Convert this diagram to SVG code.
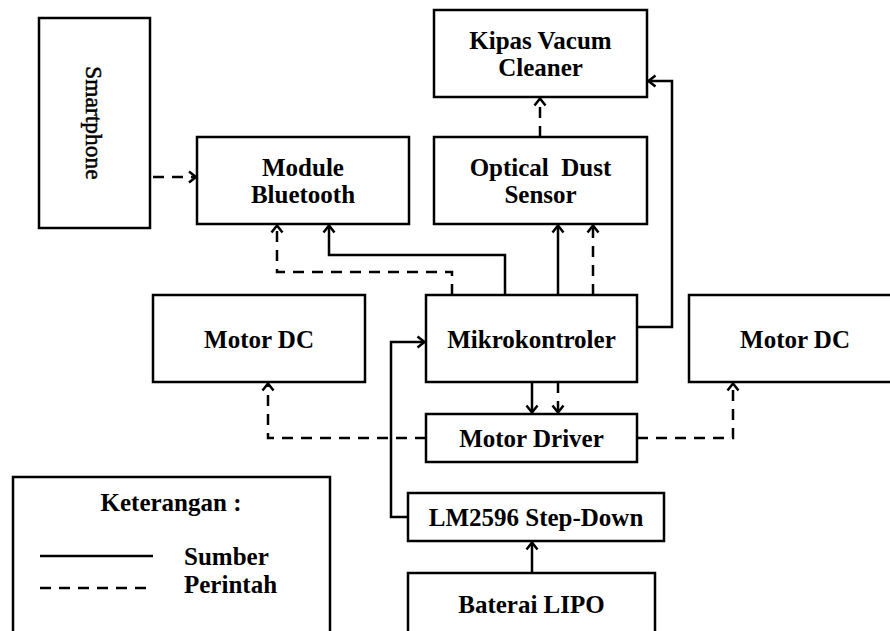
<svg xmlns="http://www.w3.org/2000/svg" width="890" height="631" viewBox="0 0 890 631">
<defs>
<style>
.box{fill:#fff;stroke:#000;stroke-width:2.5}
.t{font-family:"Liberation Serif","Times New Roman",serif;font-size:25px;font-weight:bold;fill:#000;text-anchor:middle}
.tl{font-family:"Liberation Serif","Times New Roman",serif;font-size:25px;font-weight:bold;fill:#000}
.s{fill:none;stroke:#000;stroke-width:2.5}
.d{fill:none;stroke:#000;stroke-width:2.5;stroke-dasharray:11 8}
.ah{fill:none;stroke:#000;stroke-width:2.5;stroke-dasharray:none}
</style>
<marker id="arr" markerUnits="userSpaceOnUse" viewBox="-9 -7 11 14" markerWidth="11" markerHeight="14" refX="0" refY="0" orient="auto">
<path class="ah" d="M-7,-5.5 L0,0 L-7,5.5"/>
</marker>
</defs>
<rect width="890" height="631" fill="#fff"/>

<g id="smartphone">
<rect class="box" x="39" y="18" width="111" height="210"/>
<text x="86" y="123" transform="rotate(90 86 123)" style="font-family:'Liberation Serif','Times New Roman',serif;font-size:23.5px;fill:#000;stroke:#000;stroke-width:0.5;text-anchor:middle">Smartphone</text>
</g>
<g id="bluetooth">
<rect class="box" x="197" y="137" width="212" height="87"/>
<text class="t" x="303" y="176">Module</text>
<text class="t" x="303" y="203">Bluetooth</text>
</g>
<g id="kipas">
<rect class="box" x="434" y="10" width="213" height="87"/>
<text class="t" x="540.5" y="49">Kipas Vacum</text>
<text class="t" x="540.5" y="76">Cleaner</text>
</g>
<g id="optical">
<rect class="box" x="434" y="137" width="213" height="87"/>
<text class="t" x="540.5" y="176" xml:space="preserve">Optical  Dust</text>
<text class="t" x="540.5" y="203">Sensor</text>
</g>
<g id="motordc-left">
<rect class="box" x="153" y="295" width="212" height="87"/>
<text class="t" x="259" y="348">Motor DC</text>
</g>
<g id="mikrokontroler">
<rect class="box" x="426" y="295" width="211" height="87"/>
<text class="t" x="531.5" y="348">Mikrokontroler</text>
</g>
<g id="motordc-right">
<rect class="box" x="689" y="295" width="212" height="87"/>
<text class="t" x="795" y="348">Motor DC</text>
</g>
<g id="motordriver">
<rect class="box" x="426" y="414" width="211" height="48"/>
<text class="t" x="531.5" y="447">Motor Driver</text>
</g>
<g id="lm2596">
<rect class="box" x="408" y="493" width="256" height="48"/>
<text class="t" x="536" y="526">LM2596 Step-Down</text>
</g>
<g id="baterai">
<rect class="box" x="408" y="573" width="247" height="70"/>
<text class="t" x="531.5" y="613">Baterai LIPO</text>
</g>
<g id="legend">
<rect class="box" x="13" y="477" width="317" height="170"/>
<text class="t" x="171" y="511">Keterangan :</text>
<line class="s" x1="40" y1="556" x2="153" y2="556"/>
<line class="d" x1="40" y1="588" x2="153" y2="588"/>
<text class="tl" x="184" y="565">Sumber</text>
<text class="tl" x="184" y="593">Perintah</text>
</g>

<g id="connectors">
<path class="d" d="M153,177 L196,177" marker-end="url(#arr)"/>
<path class="s" d="M505,295 L505,255 L329,255 L329,225.5" marker-end="url(#arr)"/>
<path class="d" d="M452,295 L452,272 L277,272 L277,225.5" marker-end="url(#arr)"/>
<path class="s" d="M558,295 L558,225.5" marker-end="url(#arr)"/>
<path class="d" d="M593,295 L593,225.5" marker-end="url(#arr)"/>
<path class="d" d="M540,137 L540,98.5" marker-end="url(#arr)"/>
<path class="s" d="M637,327 L672,327 L672,81 L648.5,81" marker-end="url(#arr)"/>
<path class="s" d="M532,382 L532,412.5" marker-end="url(#arr)"/>
<path class="d" d="M558,382 L558,412.5" marker-end="url(#arr)"/>
<path class="d" d="M426,438 L268,438 L268,383.5" marker-end="url(#arr)"/>
<path class="d" d="M637,438 L733,438 L733,383.5" marker-end="url(#arr)"/>
<path class="s" d="M408,517 L391,517 L391,342 L424.5,342" marker-end="url(#arr)"/>
<path class="s" d="M532,573 L532,542.5" marker-end="url(#arr)"/>
</g>
</svg>
